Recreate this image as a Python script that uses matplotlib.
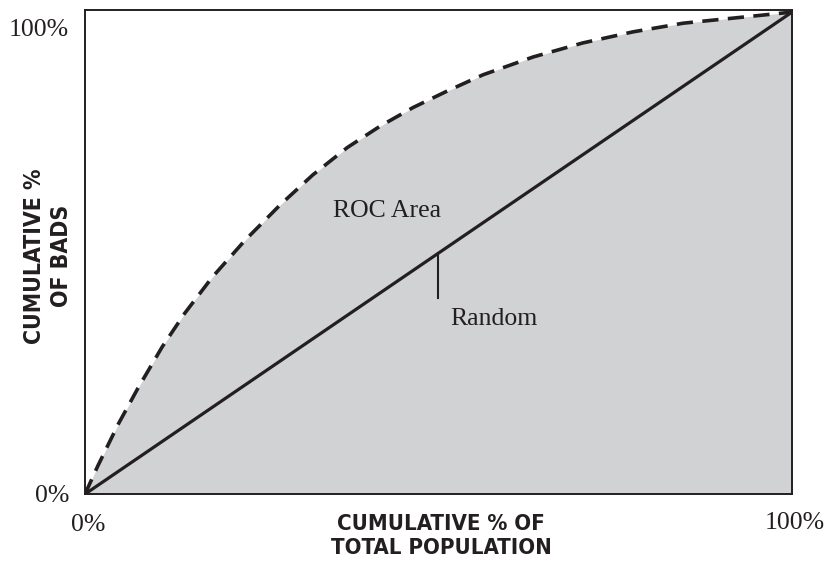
import matplotlib
matplotlib.use("Agg")
import matplotlib.pyplot as plt

# ROC curve (percent)
pct_population = [0, 1.8, 4.7, 7.5, 10.9, 14.1, 18.0, 22.6, 27.6, 32.2, 37.1,
                  41.7, 46.4, 51.2, 56.3, 63.4, 70.4, 77.5, 84.6, 100]
pct_bads = [0, 5.8, 14.5, 22.0, 30.5, 37.5, 45.0, 52.6, 60.0, 66.2, 71.9,
            76.3, 80.2, 83.6, 87.0, 90.7, 93.6, 95.9, 97.7, 100]
random_x = [0, 100]
random_y = [0, 100]
tick_labels = ["0%", "100%"]

serif = "Liberation Serif"
ink = "#231f20"
label_font = dict(family="DejaVu Sans", fontstretch="condensed",
                  fontweight="bold")

fig = plt.figure(figsize=(8.25, 5.66), dpi=100)
ax = fig.add_axes([0.103, 0.127, 0.857, 0.855])

ax.fill_between(pct_population, pct_bads, 0, color="#d1d2d4", lw=0)
ax.plot(pct_population, pct_bads, color=ink, lw=2.6,
        dashes=(4.5, 2.6), solid_capstyle="butt")
ax.plot(random_x, random_y, color=ink, lw=2.3)

# pointer for the random line
ax.plot([50, 50], [50, 40.7], color=ink, lw=1.5)

ax.text(42.7, 58.8, "ROC Area", family=serif, fontsize=18.5,
        ha="center", va="center", color=ink)
ax.text(57.9, 36.4, "Random", family=serif, fontsize=18.5,
        ha="center", va="center", color=ink)

ax.set_xlim(0, 100)
ax.set_ylim(0, 100.4)
ax.set_xticks([])
ax.set_yticks([])
for s in ax.spines.values():
    s.set_color(ink)
    s.set_linewidth(1.4)

# tick labels placed like the original
fig.text(69 / 825, 1 - 30 / 566, tick_labels[1], family=serif, fontsize=18.5,
         ha="right", va="center", color=ink)
fig.text(69 / 825, 1 - 496 / 566, tick_labels[0], family=serif, fontsize=18.5,
         ha="right", va="center", color=ink)
fig.text(88 / 825, 1 - 525 / 566, tick_labels[0], family=serif, fontsize=18.5,
         ha="center", va="center", color=ink)
fig.text(795 / 825, 1 - 523 / 566, tick_labels[1], family=serif, fontsize=18.5,
         ha="center", va="center", color=ink)

fig.text(441 / 825, 1 - 536 / 566, "CUMULATIVE % OF\nTOTAL POPULATION",
         ha="center", va="center", linespacing=1.25, color=ink,
         fontsize=15.9, **label_font)
fig.text(48 / 825, 1 - 256 / 566, "CUMULATIVE %\nOF BADS", rotation=90,
         ha="center", va="center", linespacing=1.2, color=ink,
         fontsize=16.5, **label_font)

fig.savefig("out.png", dpi=100)
